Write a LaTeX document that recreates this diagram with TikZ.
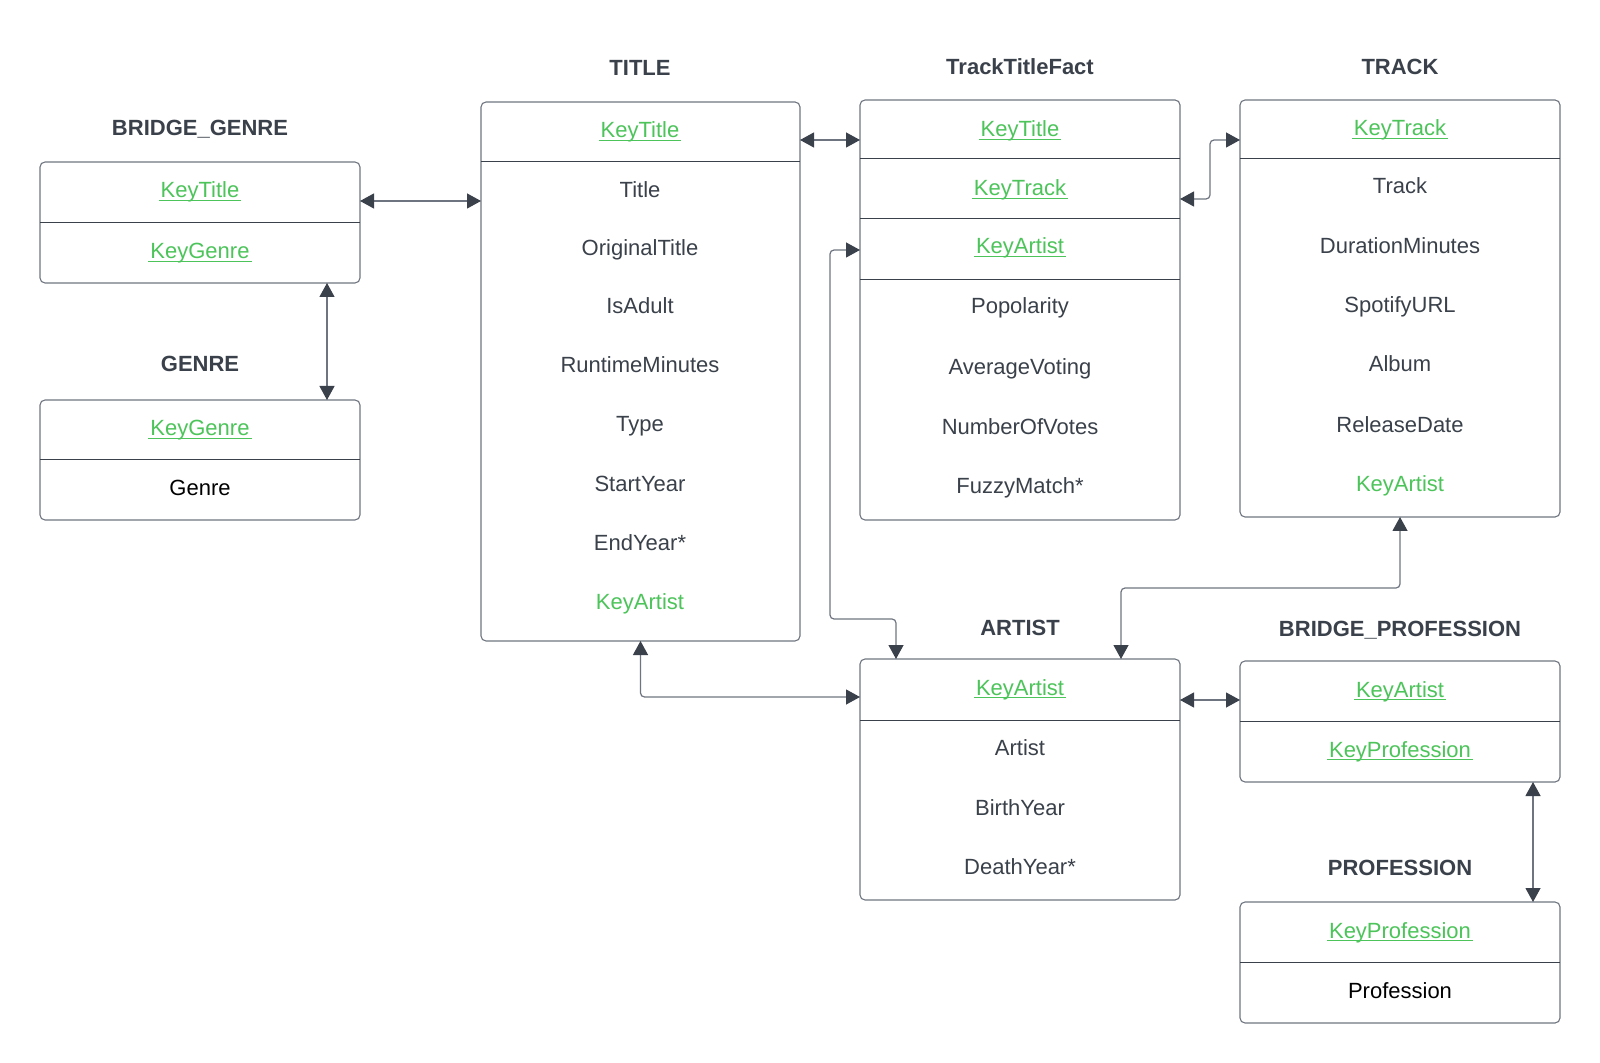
\documentclass[tikz,border=0pt]{standalone}
\usepackage{fontspec}
\setmainfont{Liberation Sans}
\usetikzlibrary{arrows.meta}
\definecolor{ink}{HTML}{3A414A}
\definecolor{edge}{HTML}{6F7580}
\definecolor{keyc}{HTML}{4CC45A}
\newcommand{\pk}[1]{\textcolor{keyc}{\setbox0\hbox{#1}\hbox to \wd0{\hss\rule[-1.7pt]{\dimexpr\wd0+2pt\relax}{.75pt}\hss}\hskip-\wd0\box0}}
\newcommand{\fk}[1]{\textcolor{keyc}{#1}}
\tikzset{
  tbl/.style={draw=edge, line width=.55pt, rounded corners=2.5pt, minimum width=160pt, outer sep=0pt, inner sep=0pt},
  fld/.style={text=ink, font=\fontsize{11}{13}\selectfont, text height=8pt, text depth=0pt, inner sep=0pt},
  tname/.style={fld, font=\fontsize{11}{13}\selectfont\bfseries},
  sep/.style={draw=ink, line width=.5pt},
  rel/.style={draw=edge, line width=.6pt, rounded corners=2pt, >={Triangle[length=7pt,width=7.5pt,color=ink]}, <->}
}

\begin{document}
\begin{tikzpicture}[x=.5pt,y=-.5pt]
	\fill[white] (0,0) rectangle (1600,1063);
	\node[tbl, minimum height=60.5pt] (bg) at (200,222.5) {};
	\node[tbl, minimum height=60pt] (genre) at (200,460) {};
	\node[tbl, minimum width=159.5pt, minimum height=269.5pt] (title) at (640.5,371.5) {};
	\node[tbl, minimum height=210pt] (ttf) at (1020,310) {};
	\node[tbl, minimum height=208.5pt] (track) at (1400,308.5) {};
	\node[tbl, minimum height=120.5pt] (artist) at (1020,779.5) {};
	\node[tbl, minimum height=60.5pt] (bprof) at (1400,721.5) {};
	\node[tbl, minimum height=60.5pt] (prof) at (1400,962.5) {};
	\foreach \b/\y in {bg/223,genre/460,title/162,ttf/159,ttf/219,ttf/280,track/159,artist/720,bprof/721,prof/962}
		\draw[sep] (\b.west |- 0,\y) -- (\b.east |- 0,\y);
	\foreach \t/\x/\y [count=\i] in {BRIDGE\_GENRE/200/128,GENRE/200/364,TITLE/640/68,TrackTitleFact/1020/67,TRACK/1400/67,ARTIST/1020/627,BRIDGE\_PROFESSION/1400/628,PROFESSION/1400/867}
		\node[tname] (lbl\i) at (\x,\y) {\t};
	\foreach \f/\y [count=\i] in {\pk{KeyTitle}/190,\pk{KeyGenre}/251}
		\node[fld] (bg\i) at (200,\y) {\f};
	\node[fld] (genre1) at (200,428) {\pk{KeyGenre}};
	\node[fld, text=black] (genre2) at (200,488) {Genre};
	\foreach \f/\y [count=\i] in {\pk{KeyTitle}/130,Title/190,OriginalTitle/248,IsAdult/306,RuntimeMinutes/365,Type/424,StartYear/484,EndYear*/543,\fk{KeyArtist}/602}
		\node[fld] (title\i) at (640,\y) {\f};
	\foreach \f/\y [count=\i] in {\pk{KeyTitle}/129,\pk{KeyTrack}/188,\pk{KeyArtist}/246,Popolarity/306,AverageVoting/367,NumberOfVotes/427,FuzzyMatch*/486}
		\node[fld] (ttf\i) at (1020,\y) {\f};
	\foreach \f/\y [count=\i] in {\pk{KeyTrack}/128,Track/186,DurationMinutes/246,SpotifyURL/305,Album/364,ReleaseDate/425,\fk{KeyArtist}/484}
		\node[fld] (track\i) at (1400,\y) {\f};
	\foreach \f/\y [count=\i] in {\pk{KeyArtist}/687,Artist/747,BirthYear/807,DeathYear*/866}
		\node[fld] (artist\i) at (1020,\y) {\f};
	\foreach \f/\y [count=\i] in {\pk{KeyArtist}/689,\pk{KeyProfession}/749}
		\node[fld] (bprof\i) at (1400,\y) {\f};
	\node[fld] (prof1) at (1400,930) {\pk{KeyProfession}};
	\node[fld, text=black] (prof2) at (1400,990) {Profession};
	\draw[rel] (bg.east |- 0,201) -- (title.west |- 0,201);
	\draw[rel] (bg.south -| 327,0) -- (genre.north -| 327,0);
	\draw[rel] (title.east |- 0,140) -- (ttf.west |- 0,140);
	\draw[rel] (ttf.east |- 0,199) -- (1210,199) -- (1210,140) -- (track.west |- 0,140);
	\draw[rel] (ttf.west |- 0,250) -- (830,250) -- (830,619) -- (896,619) -- (artist.north -| 896,0);
	\draw[rel] (track.south) -- (1400,588) -- (1121,588) -- (artist.north -| 1121,0);
	\draw[rel] (title.south) -- (640.5,697) -- (artist.west |- 0,697);
	\draw[rel] (artist.east |- 0,700) -- (bprof.west |- 0,700);
	\draw[rel] (bprof.south -| 1533,0) -- (prof.north -| 1533,0);
\end{tikzpicture}
\end{document}
